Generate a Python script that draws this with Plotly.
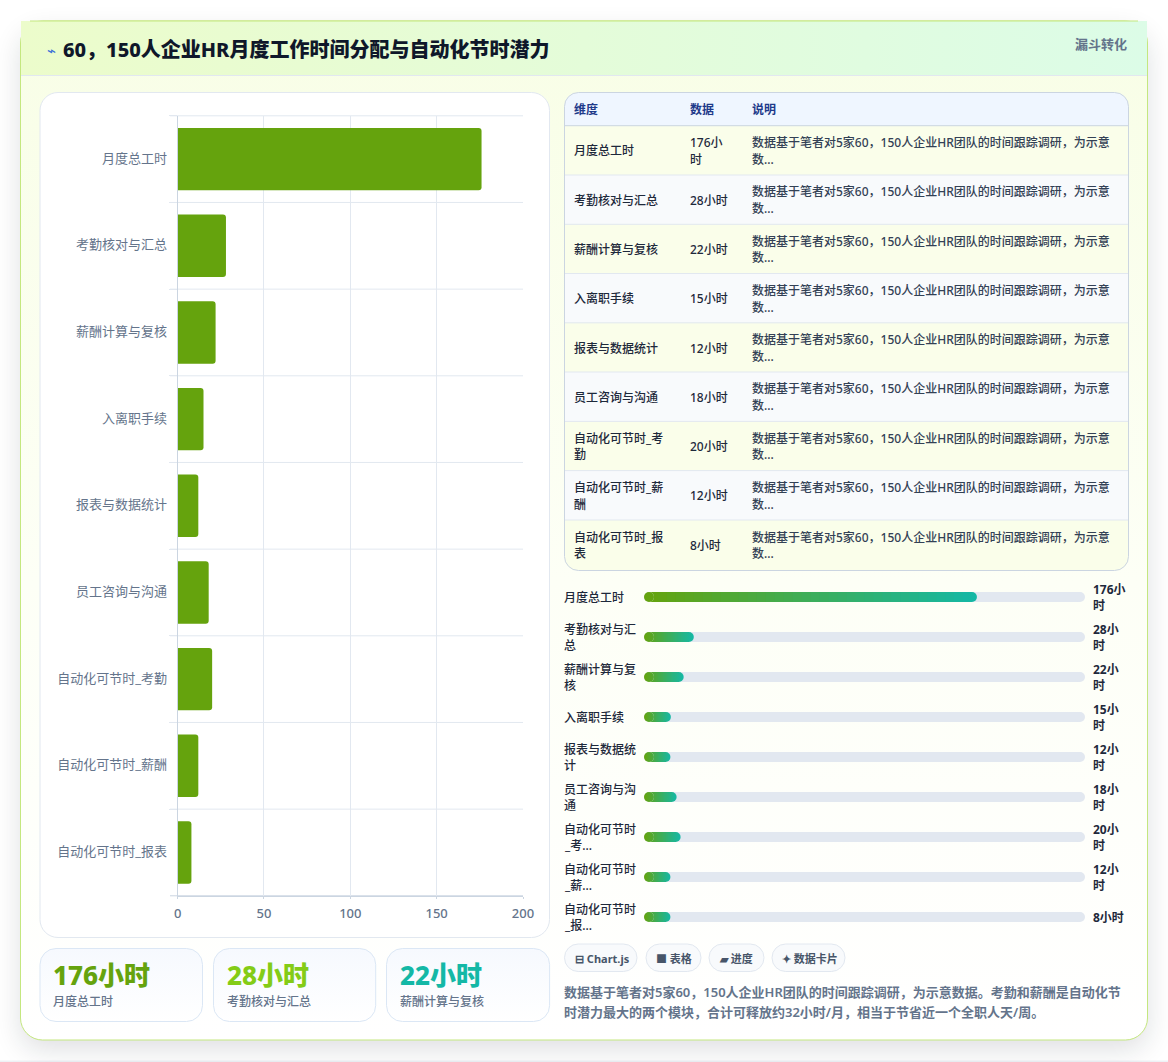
import base64
import plotly.graph_objects as go

W, H = 1168, 1062
FONT = "Noto Sans, Noto Sans CJK SC, sans-serif"

# ---- chart content ----
title = "60，150人企业HR月度工作时间分配与自动化节时潜力"
badge = "漏斗转化"
categories = ["月度总工时", "考勤核对与汇总", "薪酬计算与复核", "入离职手续", "报表与数据统计",
              "员工咨询与沟通", "自动化可节时_考勤", "自动化可节时_薪酬", "自动化可节时_报表"]
hours = [176, 28, 22, 15, 12, 18, 20, 12, 8]
x_ticks = [0, 50, 100, 150, 200]

table_headers = ["维度", "数据", "说明"]
table_dims = ["月度总工时", "考勤核对与汇总", "薪酬计算与复核", "入离职手续", "报表与数据统计",
              "员工咨询与沟通", "自动化可节时_考\n勤", "自动化可节时_薪\n酬", "自动化可节时_报\n表"]
table_values = ["176小\n时", "28小时", "22小时", "15小时", "12小时", "18小时", "20小时", "12小时", "8小时"]
table_note = "数据基于笔者对5家60，150人企业HR团队的时间跟踪调研，为示意\n数..."

progress_labels = ["月度总工时", "考勤核对与汇\n总", "薪酬计算与复\n核", "入离职手续", "报表与数据统\n计",
                   "员工咨询与沟\n通", "自动化可节时\n_考...", "自动化可节时\n_薪...", "自动化可节时\n_报..."]
progress_values = ["176小\n时", "28小\n时", "22小\n时", "15小\n时", "12小\n时", "18小\n时", "20小\n时", "12小\n时", "8小时"]
progress_fill_pct = [75.5, 11.3, 9.0, 6.1, 6.0, 7.4, 8.3, 6.0, 6.0]

kpi_values = ["176小时", "28小时", "22小时"]
kpi_labels = ["月度总工时", "考勤核对与汇总", "薪酬计算与复核"]
kpi_colors = ["#65a30d", "#84cc16", "#14b8a6"]

chips = ["⊟ Chart.js", "■ 表格", "▰ 进度", "✦ 数据卡片"]
footnote = ["数据基于笔者对5家60，150人企业HR团队的时间跟踪调研，为示意数据。考勤和薪酬是自动化节",
            "时潜力最大的两个模块，合计可释放约32小时/月，相当于节省近一个全职人天/周。"]

# ---- layout geometry, in page pixels ----
ROW_EDGES = [125.7, 175, 224.3, 273.5, 322.8, 372, 421.4, 470.6, 520, 570]
KPI_BOXES = [(40, 202.5), (213.5, 375.7), (386.5, 549.6)]
CHIP_BOXES = [(564.5, 637), (646, 701), (709, 764), (772, 845)]


def backdrop_svg():
    rows = []
    for i in range(9):
        fill = "#fafeea" if i % 2 == 0 else "#f8fafc"
        rows.append(f'<rect x="565" y="{ROW_EDGES[i]}" width="563.5" height="{ROW_EDGES[i+1]-ROW_EDGES[i]}" fill="{fill}"/>')
        if i:
            rows.append(f'<line x1="565" x2="1128.5" y1="{ROW_EDGES[i]}" y2="{ROW_EDGES[i]}" stroke="#e2e8f0"/>')
    kpis = "".join(
        f'<rect x="{a}" y="948.5" width="{b-a}" height="73" rx="16" fill="url(#kpi)" stroke="#dbe7f5"/>'
        for a, b in KPI_BOXES)
    pills = "".join(
        f'<rect x="{a}" y="944" width="{b-a}" height="27.5" rx="13.7" fill="#f8fafc" stroke="#e2e8f0"/>'
        for a, b in CHIP_BOXES)
    svg = f'''<svg xmlns="http://www.w3.org/2000/svg" width="{W}" height="{H}" viewBox="0 0 {W} {H}">
<defs>
<linearGradient id="card" x1="0" y1="0" x2="0" y2="1"><stop offset="0" stop-color="#f8fee6"/><stop offset="0.55" stop-color="#fdfff6"/><stop offset="1" stop-color="#ffffff"/></linearGradient>
<linearGradient id="head" x1="0" y1="0" x2="1" y2="0"><stop offset="0" stop-color="#ecfccb"/><stop offset="1" stop-color="#dcfce7"/></linearGradient>
<linearGradient id="kpi" x1="0" y1="0" x2="0" y2="1"><stop offset="0" stop-color="#f6f9fe"/><stop offset="1" stop-color="#ffffff"/></linearGradient>
<filter id="soft" x="-10%" y="-10%" width="120%" height="120%"><feGaussianBlur stdDeviation="14"/></filter>
<clipPath id="tbl"><rect x="564.5" y="92.5" width="564" height="478" rx="14"/></clipPath>
</defs>
<rect width="{W}" height="{H}" fill="#ffffff"/>
<rect y="1060.5" width="{W}" height="2" fill="#eef1f5"/>
<rect x="20" y="32" width="1128" height="1018" rx="22" fill="#0f172a" opacity="0.13" filter="url(#soft)"/>
<rect x="20.5" y="21" width="1127" height="1019" rx="22" fill="url(#card)" stroke="#c4e77f"/>
<rect x="21" y="21" width="1126" height="54.5" fill="url(#head)"/>
<line x1="21" x2="1147" y1="75.5" y2="75.5" stroke="#e2e8f0"/>
<line x1="30" x2="1138" y1="21" y2="21" stroke="#c4e77f"/>
<rect x="40" y="92.5" width="509.5" height="845" rx="18" fill="#ffffff" stroke="#e2e8f0"/>
{kpis}
<g clip-path="url(#tbl)"><rect x="564.5" y="92.5" width="564" height="33.2" fill="#eff6ff"/>{"".join(rows)}
<line x1="565" x2="1128.5" y1="125.7" y2="125.7" stroke="#cbd5e1"/></g>
<rect x="564.5" y="92.5" width="564" height="478" rx="14" fill="none" stroke="#cbd5e1"/>
{pills}
</svg>'''
    return "data:image/svg+xml;base64," + base64.b64encode(svg.encode()).decode()


fig = go.Figure()
notes = []


def text(x, y, s, size, color, anchor="left", weight=400, spacing=None):
    """Place text at page pixels, one annotation per line so the leading stays exact."""
    lines = s.split("\n")
    spacing = spacing or size * 1.38
    top = y - spacing * (len(lines) - 1) / 2
    for i, line in enumerate(lines):
        notes.append(dict(
            x=x / W, y=1 - (top + i * spacing) / H, xref="paper", yref="paper",
            text=line, showarrow=False, xanchor=anchor, yanchor="middle",
            borderpad=0, borderwidth=0,
            font=dict(family=FONT, size=size, color=color, weight=weight)))


# Horizontal bars of monthly hours
fig.add_trace(go.Bar(
    y=categories, x=hours, orientation="h", width=0.72, xaxis="x", yaxis="y",
    marker=dict(color="#65a30d", cornerradius=3, line=dict(width=0)), hoverinfo="skip", showlegend=False))

# Progress strips on their own percentage axis
rows = list(range(len(progress_fill_pct)))
cap = 5 / 441 * 100
STRIP = 0.25
fig.add_trace(go.Bar(
    y=rows, x=[100 - 2 * cap] * len(rows), base=[cap] * len(rows), orientation="h", width=STRIP,
    xaxis="x2", yaxis="y2", marker=dict(color="#e2e8f0", line=dict(width=0)), hoverinfo="skip", showlegend=False))

START, END = (0x65, 0xa3, 0x0d), (0x14, 0xb8, 0xa6)


def blend(t):
    return "rgb(%d,%d,%d)" % tuple(round(a + (b - a) * t) for a, b in zip(START, END))


seg_y, seg_x, seg_base, seg_color = [], [], [], []
end_x, end_y, end_left, end_right = [], [], [], []
STEPS = 36
for row, pct in zip(rows, progress_fill_pct):
    span = pct - 2 * cap
    share = 2 * cap / pct
    for k in range(STEPS):
        seg_y.append(row)
        seg_base.append(cap + span * k / STEPS)
        seg_x.append(span / STEPS * 1.15 if k < STEPS - 1 else span / STEPS)
        seg_color.append(blend(cap / pct + (span / pct) * (k + 0.5) / STEPS))
    end_x += [cap, pct - cap]
    end_y += [row, row]
    end_left += [blend(0), blend(1 - share)]
    end_right += [blend(share), blend(1)]
fig.add_trace(go.Bar(
    y=seg_y, x=seg_x, base=seg_base, orientation="h", width=STRIP, xaxis="x2", yaxis="y2",
    marker=dict(color=seg_color, line=dict(width=0)), hoverinfo="skip", showlegend=False))
# Rounded strip ends
track_x, track_y = [], []
for row in rows:
    track_x += [cap, 100 - cap]
    track_y += [row, row]
fig.add_trace(go.Scatter(x=track_x, y=track_y, mode="markers", xaxis="x2", yaxis="y2",
                         marker=dict(size=10, color="#e2e8f0", line=dict(width=0)),
                         hoverinfo="skip", showlegend=False))
fig.add_trace(go.Scatter(x=end_x, y=end_y, mode="markers", xaxis="x2", yaxis="y2",
                         marker=dict(size=10, color=end_left, line=dict(width=0),
                                     gradient=dict(type="horizontal", color=end_right)),
                         hoverinfo="skip", showlegend=False))

# Header
text(47, 50, "⌁", 15, "#3b6fd8", weight=400)
text(63, 49.5, title, 20, "#0f172a", weight=800)
text(1127, 44, badge, 13, "#64748b", anchor="right", weight=600)

# Table
for x, label in zip((574, 690, 752), table_headers):
    text(x, 109.5, label, 12, "#1e3a8a", weight=600)
for i in range(9):
    mid = (ROW_EDGES[i] + ROW_EDGES[i + 1]) / 2 + 0.6
    text(574, mid, table_dims[i], 12, "#1e293b", weight=500, spacing=16.6)
    text(690, mid, table_values[i], 12, "#1e293b", weight=500, spacing=16.6)
    text(752, mid, table_note, 12, "#334155", weight=500, spacing=16.6)

# Progress row labels and values
for i in range(9):
    mid = 597 + 40 * i
    text(564, mid, progress_labels[i], 12, "#1e293b", weight=500, spacing=16)
    head, *tail = progress_values[i].split("\n")
    text(1093, mid - (8 if tail else 0), head, 12, "#1e293b", weight=700)
    if tail:
        text(1093, mid + 8, tail[0], 12, "#1e293b", weight=700)

# KPI cards
for (a, _), val, lab, col in zip(KPI_BOXES, kpi_values, kpi_labels, kpi_colors):
    text(a + 13, 975, val, 26, col, weight=800)
    text(a + 13, 1001.5, lab, 12, "#64748b", weight=500)

# Chips and footnote
for (a, _), chip in zip(CHIP_BOXES, chips):
    text(a + 10, 958, chip, 11, "#475569", weight=700)
text(564, 992, footnote[0], 13, "#64748b", weight=600)
text(564, 1012, footnote[1], 13, "#64748b", weight=600)

# Category boundary lines reach left of the axis to act as tick marks
boundary_lines = [
    dict(type="line", xref="paper", yref="y domain", x0=170 / W, x1=523 / W, y0=k / 9, y1=k / 9,
         line=dict(color="#cbd5e1" if k == 0 else "#e2e8f0", width=1), layer="below")
    for k in range(10)
]

fig.update_layout(
    width=W, height=H, margin=dict(l=0, r=0, t=0, b=0, autoexpand=False), autosize=False,
    paper_bgcolor="#ffffff", plot_bgcolor="rgba(0,0,0,0)", barmode="overlay",
    font=dict(family=FONT), annotations=notes, shapes=boundary_lines,
    images=[dict(source=backdrop_svg(), xref="paper", yref="paper", x=0, y=1, sizex=1, sizey=1,
                 sizing="stretch", xanchor="left", yanchor="top", layer="below")],
    xaxis=dict(domain=[177.6 / W, 523 / W], range=[0, 200], tickvals=x_ticks, anchor="y",
               showgrid=True, gridcolor="#e2e8f0", gridwidth=1, zeroline=False,
               showline=True, linecolor="#cbd5e1", linewidth=1,
               ticks="outside", ticklen=2, tickcolor="#cbd5e1", ticklabelstandoff=4,
               tickfont=dict(size=13, color="#64748b", family=FONT, weight=500)),
    yaxis=dict(domain=[1 - 895.8 / H, 1 - 115.8 / H], type="category", categoryorder="array",
               categoryarray=categories, autorange="reversed", anchor="x",
               tickson="boundaries", ticks="outside", ticklen=8, tickcolor="#e2e8f0",
               ticklabelstandoff=7, ticklabelshift=1,
               showgrid=False, zeroline=False,
               showline=True, linecolor="#cbd5e1", linewidth=1,
               tickfont=dict(size=13, color="#64748b", family=FONT)),
    xaxis2=dict(domain=[644 / W, 1085 / W], range=[0, 100], anchor="y2", visible=False),
    yaxis2=dict(domain=[1 - 937 / H, 1 - 577 / H], range=[8.5, -0.5], anchor="x2", visible=False),
)

fig.write_html("out.html", config={"displayModeBar": False})
